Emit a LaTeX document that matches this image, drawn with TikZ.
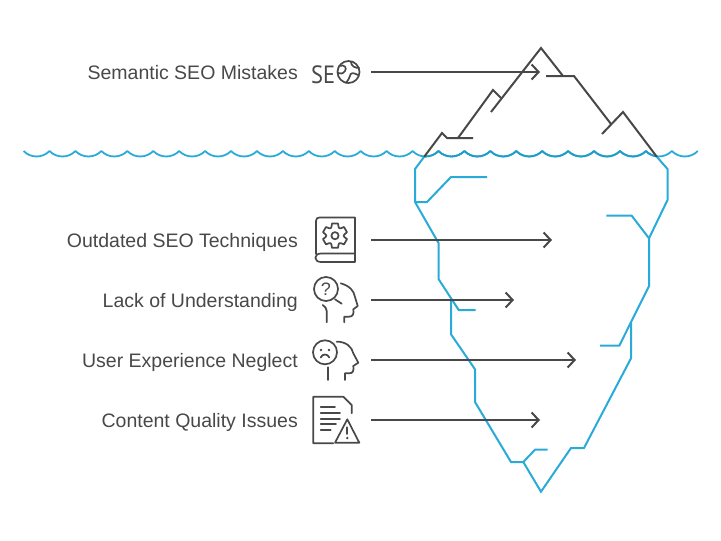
\documentclass[tikz,border=0pt]{standalone}
\usepackage{fontspec}
\setmainfont{Liberation Sans}
\newfontfamily\seofont{PT Sans}
\usetikzlibrary{positioning,arrows.meta,bending}
\definecolor{inkgray}{HTML}{484848}
\definecolor{iceblue}{HTML}{29ABD9}
\definecolor{deepblue}{HTML}{1F9CC8}
\begin{document}
\begin{tikzpicture}[x=1pt,y=-1pt,
    label/.style={anchor=base east, inner sep=0pt, text=inkgray, font=\fontsize{19.5}{20}\selectfont},
    pointer/.style={draw=inkgray, line width=2pt, -{Straight Barb[length=7pt,width=15pt,line width=2pt]}},
    rock/.style={draw=inkgray, line width=2pt, line join=miter},
    ice/.style={draw=iceblue, line width=2pt, line join=miter},
    wave/.style={draw=iceblue, line width=1.8pt, line join=round},
    icon/.style={draw=inkgray, line width=1.7pt, line cap=round, line join=round}]
  \useasboundingbox (0,0) rectangle (721,541);

  \draw[wave] (23.6,151)
    \foreach \i [evaluate=\i as \x using 23.6+25.93*\i] in {1,...,26} {
      .. controls ({\x-19},158.3) and ({\x-7},158.3) .. (\x,151)};
  \begin{scope}
    \clip (424,140) rectangle (657,165);
    \draw[wave,draw=deepblue] (23.6,151)
      \foreach \i [evaluate=\i as \x using 23.6+25.93*\i] in {1,...,26} {
        .. controls ({\x-19},158.3) and ({\x-7},158.3) .. (\x,151)};
  \end{scope}

  \draw[rock] (424,157) -- (442,133) -- (447,138) -- (473,138);
  \draw[rock] (458,138) -- (493,90) -- (501,98);
  \draw[rock] (491,112) -- (541,48) -- (563,76);
  \draw[rock] (546,76) -- (574,76) -- (611,124);
  \draw[rock] (602,134) -- (623,112) -- (657,157);

  \draw[ice] (424,157) -- (415,169) -- (415,202) -- (438.5,243) -- (438.5,279)
    -- (458.7,310) -- (475.7,310);
  \draw[ice] (415,202) -- (427,202) -- (451,177) -- (487,177);
  \draw[ice] (451,299) -- (451,334.3) -- (475,369.3) -- (475,402) -- (511,462)
    -- (523.3,462) -- (535,449.7) -- (547.7,449.7);
  \draw[ice] (523.3,462) -- (541,491.7) -- (571,448) -- (584,448) -- (631,358.3)
    -- (631,322.7);
  \draw[ice] (600,345.7) -- (619.3,345.7) -- (649,286) -- (649,238.3) -- (631.7,215.7)
    -- (606.3,215.7);
  \draw[ice] (649,238.3) -- (667.5,200) -- (667.5,169) -- (657,157);

  \node[label] (Semantic) at (298,79) {Semantic SEO Mistakes};
  \node[label] (Outdated) at (298,247) {Outdated SEO Techniques};
  \node[label] (Lack) at (298,307) {Lack of Understanding};
  \node[label] (Neglect) at (298,367) {User Experience Neglect};
  \node[label] (Quality) at (298,427) {Content Quality Issues};

  \coordinate (SemanticA) at (371,72);
  \coordinate (SemanticB) at (540,72);
  \coordinate (OutdatedA) at (371,240);
  \coordinate (OutdatedB) at (552,240);
  \coordinate (LackA) at (371,300);
  \coordinate (LackB) at (514,300);
  \coordinate (NeglectA) at (371,360);
  \coordinate (NeglectB) at (576,360);
  \coordinate (QualityA) at (371,420);
  \coordinate (QualityB) at (540,420);
  \draw[pointer] (SemanticA) -- (SemanticB);
  \draw[pointer] (OutdatedA) -- (OutdatedB);
  \draw[pointer] (LackA) -- (LackB);
  \draw[pointer] (NeglectA) -- (NeglectB);
  \draw[pointer] (QualityA) -- (QualityB);

  % SEO
  \node[inner sep=0pt, anchor=mid west, text=inkgray, xscale=.9,
        font=\seofont\fontsize{25}{25}\selectfont] (SeoText) at (311,81) {SE};
  \draw[icon] (348.5,72) circle (11);
  \draw[icon] (339,66) .. controls (345,64) and (347,68) .. (345,71)
    .. controls (343,74) and (340,74) .. (338,73);
  \draw[icon] (358,75) .. controls (353,72) and (350,73) .. (350,76)
    .. controls (350,79) and (347,80) .. (346,83);
  \draw[icon] (351,62) .. controls (351,66) and (355,68) .. (359,68);

  % book
  \draw[icon] (316,254) -- (316,221) .. controls (316,218.5) and (317.5,217.5) .. (319.5,217.5)
    -- (355,217.5) -- (355,253.5) -- (321,253.5)
    .. controls (313.5,253.5) and (313.5,262) .. (321,262) -- (355,262) -- (355,253.5);
  \draw[icon] (335,235.7) circle (3.6);
  \draw[icon] ({335+12.5*sin(-14)},{235.7-12.5*cos(-14)})
    \foreach \a in {0,60,...,300} {
      -- ({335+12.5*sin(\a+14)},{235.7-12.5*cos(\a+14)})
      .. controls ({335+7.5*sin(\a+30)},{235.7-7.5*cos(\a+30)}) ..
      ({335+12.5*sin(\a+46)},{235.7-12.5*cos(\a+46)})
    } -- cycle;

  % question head
  \draw[icon] (326,289) circle (12);
  \node[inner sep=0pt, text=inkgray, font=\fontsize{18}{18}\selectfont] (Query) at (326,289) {?};
  \draw[icon] (335,299.3) -- (341.7,303.7);
  \draw[icon] (340.7,283.3) .. controls (350,286) and (354,291) .. (355,297) -- (357.7,306)
    -- (353.3,309.3) .. controls (354,314) and (353,316.7) .. (349,316.7) -- (344.3,316.7) -- (344.3,322.3);
  \draw[icon] (322.7,305) .. controls (325,307) and (326.7,308) .. (326.7,311) -- (326.7,322.3);

  % sad head
  \draw[icon] (325,352.3) circle (12);
  \fill[inkgray] (321,350) circle (1.3) (329,350) circle (1.3);
  \draw[icon] (320.7,357.5) .. controls (322.5,353.5) and (327.5,353.5) .. (329.3,357.5);
  \draw[icon] (336.7,341.7) .. controls (346,341.5) and (352,347) .. (353.3,353.3) -- (358.3,362.7)
    -- (353.3,366) .. controls (354,371) and (353,373.3) .. (349,373.3) -- (345,373.3) -- (345,380);
  \draw[icon] (327.7,367.3) -- (327.7,380);

  % document
  \draw[icon] (351.7,413.3) -- (351.7,405) -- (343.3,396.7) -- (313.3,396.7) -- (313.3,443.3) -- (333.3,443.3);
  \draw[icon] (320.7,407.3) -- (335,407.3) (320.7,412.7) -- (340,412.7) (320.7,418.7) -- (340,418.7)
    (320.7,424.3) -- (336,424.3) (320.7,430) -- (330.7,430);
  \draw[icon] (347.3,419.3) -- (359.3,442.7) -- (335,442.7) -- cycle;
  \draw[icon] (347.3,427.3) -- (347.3,434);
  \fill[inkgray] (347.3,438) circle (1.3);
\end{tikzpicture}
\end{document}
